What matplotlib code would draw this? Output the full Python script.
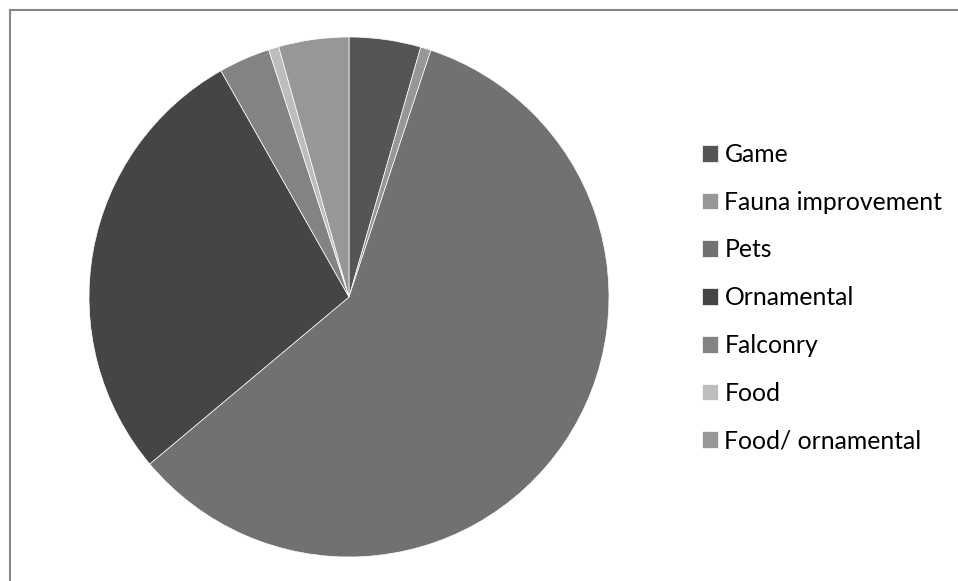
import matplotlib
matplotlib.use('Agg')
import matplotlib.pyplot as plt
from matplotlib.lines import Line2D

# Share of each use category (%)
labels = ['Game', 'Fauna improvement', 'Pets', 'Ornamental',
          'Falconry', 'Food', 'Food/ ornamental']
shares = [4.45, 0.65, 58.8, 27.9, 3.2, 0.64, 4.36]
colors = ['#555555', '#979797', '#717171', '#454545',
          '#838383', '#bdbdbd', '#979797']

W, H = 958, 581
fig = plt.figure(figsize=(W / 100, H / 100), dpi=100)
fig.patch.set_facecolor('white')

# pie placed by pixel centre / radius
cx, cy, r = 349, 297, 260
ax = fig.add_axes([(cx - r) / W, (H - cy - r) / H, 2 * r / W, 2 * r / H])
wedges, _ = ax.pie(shares, colors=colors, startangle=90, counterclock=False,
                   wedgeprops=dict(edgecolor='white', linewidth=0.5))
ax.set_xlim(-1, 1)
ax.set_ylim(-1, 1)
ax.set_aspect('equal')

# chart area border (top and left visible)
fig.add_artist(Line2D([9.5 / W, 9.5 / W], [0, 1 - 9.5 / H], transform=fig.transFigure,
                      color='#868686', lw=1.5))
fig.add_artist(Line2D([9.5 / W, 1], [1 - 9.5 / H, 1 - 9.5 / H], transform=fig.transFigure,
                      color='#868686', lw=1.5))

leg = fig.legend(wedges, labels, loc='upper left',
                 bbox_to_anchor=(702 / W, 1 - 143 / H),
                 frameon=False, prop={'family': 'Lato', 'size': 17.8},
                 handlelength=0.66, handleheight=0.66, handletextpad=0.25,
                 labelspacing=1.0, borderpad=0, borderaxespad=0)

fig.savefig('out.png', dpi=100, facecolor='white')
